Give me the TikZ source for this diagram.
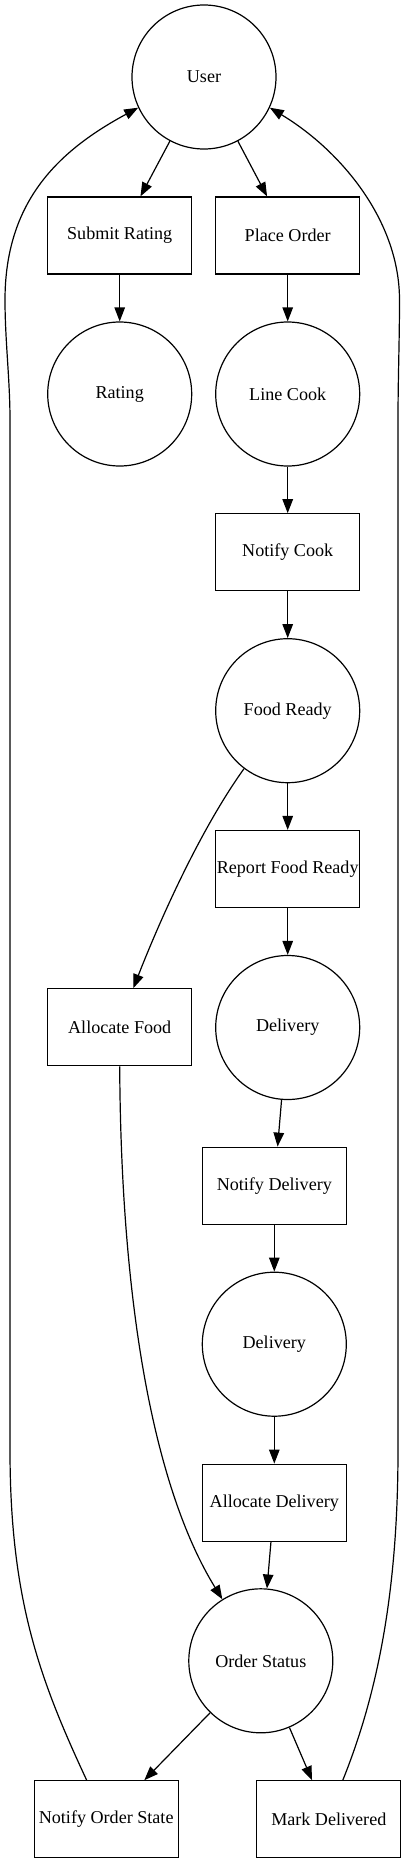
\documentclass[tikz,border=0pt]{standalone}
\usepackage{fontspec}
\setmainfont{Liberation Serif}
\usetikzlibrary{arrows.meta}
\begin{document}
\begin{tikzpicture}[x=1pt,y=-1pt,
  every node/.style={font=\fontsize{18.1pt}{21pt}\selectfont, line width=1.2pt},
  circ/.style={draw, circle, minimum size=144pt, inner sep=0pt},
  boxn/.style={draw, rectangle, minimum width=144pt, minimum height=77pt, inner sep=0pt},
  edge/.style={draw, line width=1.2pt, -{Triangle[length=14pt,width=10.5pt]}},
  plain/.style={draw, line width=1.2pt}]
\useasboundingbox (0,0) rectangle (407,1863);
% nodes
\node[circ] (user) at (204,77) {User};
\node[boxn] (sr) at (119.7,235.5) {Submit Rating};
\node[boxn] (po) at (287.7,235.5) {Place Order};
\node[circ] (rating) at (119.7,394) {Rating};
\node[circ] (lc) at (287.7,394) {Line Cook};
\node[boxn] (nc) at (287.7,552.3) {Notify Cook};
\node[circ] (fr) at (287.7,710.7) {Food Ready};
\node[boxn] (rfr) at (287.7,869) {Report Food Ready};
\node[boxn] (af) at (119.7,1027.3) {Allocate Food};
\node[circ] (d1) at (287.7,1027.5) {Delivery};
\node[boxn] (nd) at (274.3,1185.7) {Notify Delivery};
\node[circ] (d2) at (274.3,1344.2) {Delivery};
\node[boxn] (ad) at (274.3,1502.7) {Allocate Delivery};
\node[circ] (os) at (260.8,1660.8) {Order Status};
\node[boxn] (nos) at (106.2,1819.3) {Notify Order State};
\node[boxn] (md) at (328.8,1819.3) {Mark Delivered};
% straight edges
\path[edge] (user) -- (sr);
\path[edge] (user) -- (po);
\path[edge] (sr) -- (rating);
\path[edge] (po) -- (lc);
\path[edge] (lc) -- (nc);
\path[edge] (nc) -- (fr);
\path[edge] (fr) -- (rfr);
\path[edge] (rfr) -- (d1);
\path[edge] (d1) -- (nd);
\path[edge] (nd) -- (d2);
\path[edge] (d2) -- (ad);
\path[edge] (ad) -- (os);
\path[edge] (os) -- (nos);
\path[edge] (os) -- (md);
% curved edges
\path[edge] (fr.233) .. controls (200,830) and (160,920) .. (af.north -| 133.3,0);
\path[edge] (af.south) .. controls (121,1310) and (155,1490) .. (os.122);
% loops back to User
\path[edge] ([xshift=-19.5pt]nos.north) .. controls (40,1680) and (10,1600) .. (10,1450)
  -- (10,420) .. controls (10,380) and (5,340) .. (5,300)
  .. controls (5,200) and (60,150) .. (user.205);
\path[edge] ([xshift=14pt]md.north) .. controls (375,1700) and (398,1600) .. (398,1450)
  -- (398,420) .. controls (398,380) and (399.5,340) .. (399.5,300)
  .. controls (399.5,220) and (340,150) .. (user.335);
\end{tikzpicture}
\end{document}
